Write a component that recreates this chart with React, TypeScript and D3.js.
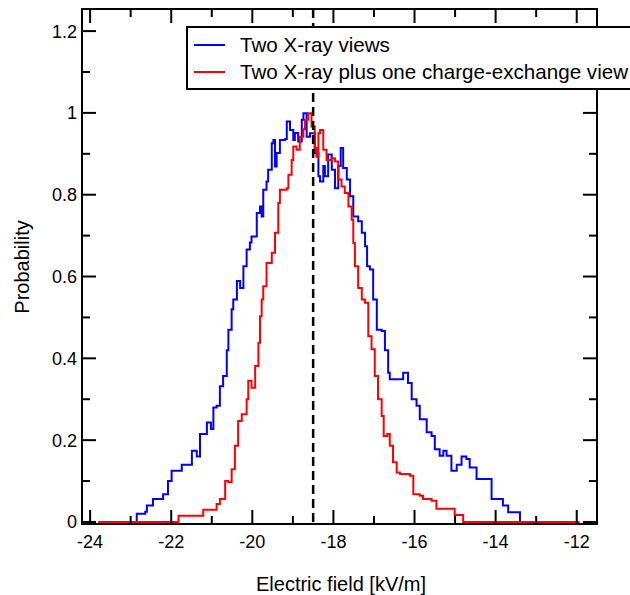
import React from "react";
import * as d3 from "d3";

// Blue: two X-ray views (field kV/m, probability)
const blueX = [-22.89, -22.85, -22.64, -22.6, -22.45, -22.23, -22.2, -22.08, -21.99, -21.78, -21.74, -21.58, -21.49, -21.37, -21.29, -21.12, -21.02, -20.96, -20.88, -20.8, -20.72, -20.63, -20.59, -20.51, -20.47, -20.38, -20.3, -20.22, -20.14, -20.06, -20.02, -19.93, -19.89, -19.81, -19.77, -19.73, -19.65, -19.61, -19.52, -19.48, -19.44, -19.4, -19.32, -19.19, -19.15, -19.07, -18.99, -18.95, -18.87, -18.78, -18.74, -18.66, -18.58, -18.46, -18.37, -18.33, -18.25, -18.21, -18.13, -18.04, -17.96, -17.88, -17.82, -17.76, -17.67, -17.59, -17.51, -17.39, -17.3, -17.22, -17.17, -17.1, -17.02, -16.93, -16.81, -16.73, -16.65, -16.61, -16.44, -16.28, -16.16, -16.07, -15.95, -15.87, -15.7, -15.58, -15.5, -15.38, -15.29, -15.21, -15.09, -14.96, -14.84, -14.72, -14.64, -14.55, -14.47, -14.22, -14.1, -13.94, -13.82, -13.69, -13.49, -13.4];
const blueY = [0, 0.02, 0.025, 0.04, 0.056, 0.056, 0.068, 0.1, 0.125, 0.125, 0.14, 0.14, 0.174, 0.16, 0.215, 0.243, 0.227, 0.28, 0.284, 0.332, 0.357, 0.42, 0.47, 0.52, 0.544, 0.589, 0.572, 0.625, 0.666, 0.683, 0.698, 0.698, 0.755, 0.771, 0.747, 0.812, 0.832, 0.861, 0.926, 0.934, 0.869, 0.902, 0.934, 0.936, 0.979, 0.958, 0.934, 0.951, 0.93, 0.983, 0.999, 0.942, 0.95, 0.902, 0.845, 0.832, 0.87, 0.845, 0.898, 0.861, 0.816, 0.87, 0.914, 0.865, 0.837, 0.796, 0.747, 0.735, 0.707, 0.674, 0.625, 0.617, 0.544, 0.47, 0.467, 0.42, 0.365, 0.349, 0.349, 0.365, 0.34, 0.3, 0.284, 0.251, 0.219, 0.21, 0.178, 0.162, 0.174, 0.162, 0.125, 0.14, 0.16, 0.154, 0.133, 0.133, 0.105, 0.105, 0.056, 0.056, 0.04, 0.024, 0.024, 0];

// Red: two X-ray plus one charge-exchange view
const redX = [-23.8, -21.91, -21.82, -21.25, -21.21, -20.96, -20.88, -20.8, -20.67, -20.59, -20.51, -20.43, -20.35, -20.26, -20.14, -20.1, -20.02, -19.93, -19.85, -19.81, -19.77, -19.73, -19.65, -19.52, -19.44, -19.36, -19.32, -19.15, -19.11, -19.03, -18.99, -18.91, -18.83, -18.74, -18.7, -18.62, -18.54, -18.46, -18.42, -18.37, -18.33, -18.25, -18.17, -18.05, -17.96, -17.88, -17.8, -17.72, -17.63, -17.55, -17.51, -17.47, -17.39, -17.3, -17.22, -17.14, -17.06, -16.98, -16.9, -16.81, -16.76, -16.67, -16.61, -16.53, -16.44, -16.36, -16.11, -16.03, -15.87, -15.79, -15.58, -15.46, -15.09, -15.01, -14.88, -14.8, -11.93];
const redY = [0, 0, 0.015, 0.015, 0.03, 0.03, 0.044, 0.056, 0.1, 0.097, 0.129, 0.186, 0.247, 0.263, 0.3, 0.345, 0.328, 0.381, 0.438, 0.503, 0.544, 0.576, 0.633, 0.658, 0.707, 0.78, 0.812, 0.816, 0.849, 0.885, 0.918, 0.91, 0.942, 0.96, 0.983, 0.999, 0.967, 0.914, 0.893, 0.95, 0.958, 0.91, 0.885, 0.889, 0.881, 0.837, 0.82, 0.804, 0.771, 0.739, 0.682, 0.625, 0.572, 0.544, 0.536, 0.454, 0.422, 0.357, 0.3, 0.259, 0.21, 0.215, 0.186, 0.146, 0.121, 0.117, 0.113, 0.068, 0.064, 0.056, 0.052, 0.032, 0.032, 0.017, 0.017, 0, 0];

const xTicks = [-24, -22, -20, -18, -16, -14, -12];
const xMinor = [-23, -21, -19, -17, -15, -13];
const yTicks = [0, 0.2, 0.4, 0.6, 0.8, 1, 1.2];
const yMinor = [0.1, 0.3, 0.5, 0.7, 0.9, 1.1];
const markerX = -18.5;
const legendLabels = ["Two X-ray views", "Two X-ray plus one charge-exchange view"];

const W = 630;
const H = 595;
const left = 82, right = 597, top = 9, bottom = 524;
const font = "'Liberation Sans', Arial, sans-serif";

export default function App() {
  const x = d3.scaleLinear().domain([-24.2, -11.5]).range([left, right]);
  const y = d3.scaleLinear().domain([-0.005, 1.254]).range([bottom, top]);

  const line = d3
    .line<[number, number]>()
    .x((d) => x(d[0]))
    .y((d) => y(d[1]))
    .curve(d3.curveStepAfter);

  const bluePts = blueX.map((v, i) => [v, blueY[i]] as [number, number]);
  const redPts = redX.map((v, i) => [v, redY[i]] as [number, number]);

  const majorLen = 14;
  const minorLen = 8;

  return (
    <svg width={W} height={H} style={{ position: "absolute", left: 0, top: 0, background: "#fff" }} fontFamily={font}>
      <defs>
        <clipPath id="plot">
          <rect x={left} y={top} width={right - left} height={bottom - top} />
        </clipPath>
      </defs>

      <g clipPath="url(#plot)">
        <path d={line(bluePts) || ""} fill="none" stroke="#0000ff" strokeWidth={2} />
        <path d={line(redPts) || ""} fill="none" stroke="#ff0000" strokeWidth={2} />
        <line x1={x(markerX)} x2={x(markerX)} y1={top} y2={bottom} stroke="#000" strokeWidth={2.5} strokeDasharray="9,5" />
      </g>

      {/* x ticks, bottom and top */}
      {xTicks.map((t) => (
        <g key={"xt" + t}>
          <line x1={x(t)} x2={x(t)} y1={bottom} y2={bottom - majorLen} stroke="#000" strokeWidth={2} />
          <line x1={x(t)} x2={x(t)} y1={top} y2={top + majorLen} stroke="#000" strokeWidth={2} />
          <text x={x(t)} y={548} textAnchor="middle" fontSize={18} fill="#000">{t}</text>
        </g>
      ))}
      {xMinor.map((t) => (
        <g key={"xm" + t}>
          <line x1={x(t)} x2={x(t)} y1={bottom} y2={bottom - minorLen} stroke="#000" strokeWidth={2} />
          <line x1={x(t)} x2={x(t)} y1={top} y2={top + minorLen} stroke="#000" strokeWidth={2} />
        </g>
      ))}

      {/* y ticks, left and right */}
      {yTicks.map((t) => (
        <g key={"yt" + t}>
          <line x1={left} x2={left + majorLen} y1={y(t)} y2={y(t)} stroke="#000" strokeWidth={2} />
          <line x1={right} x2={right - majorLen} y1={y(t)} y2={y(t)} stroke="#000" strokeWidth={2} />
          <text x={77} y={y(t) + 6.5} textAnchor="end" fontSize={18} fill="#000">{d3.format("~g")(t)}</text>
        </g>
      ))}
      {yMinor.map((t) => (
        <g key={"ym" + t}>
          <line x1={left} x2={left + minorLen} y1={y(t)} y2={y(t)} stroke="#000" strokeWidth={2} />
          <line x1={right} x2={right - minorLen} y1={y(t)} y2={y(t)} stroke="#000" strokeWidth={2} />
        </g>
      ))}

      <rect x={left} y={top} width={right - left} height={bottom - top} fill="none" stroke="#000" strokeWidth={2} />

      {/* legend */}
      <rect x={187} y={27} width={460} height={62} fill="#fff" stroke="#000" strokeWidth={2} />
      {legendLabels.map((l, i) => (
        <g key={l}>
          <line x1={194} x2={225} y1={45 + i * 27} y2={45 + i * 27} stroke={i === 0 ? "#0000ff" : "#ff0000"} strokeWidth={2} />
          <text x={240} y={52 + i * 27} fontSize={20.6} fill="#000">{l}</text>
        </g>
      ))}

      <text x={341} y={591} textAnchor="middle" fontSize={20} fill="#000">Electric field [kV/m]</text>
      <text transform="translate(29,267) rotate(-90)" textAnchor="middle" fontSize={20} fill="#000">Probability</text>
    </svg>
  );
}
